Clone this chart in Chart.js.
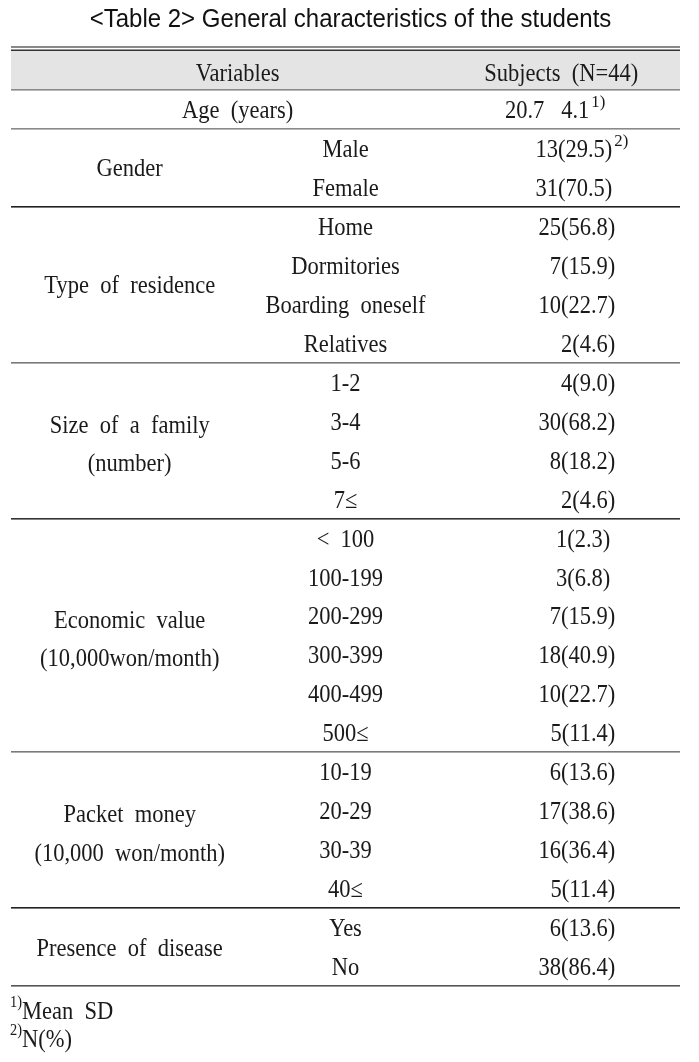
<!DOCTYPE html>
<html>
<head>
<meta charset="utf-8">
<script src="https://cdn.jsdelivr.net/npm/chart.js@4.4.1/dist/chart.umd.min.js"></script>
<style>
html,body{margin:0;padding:0;background:#fff;}
#wrap{width:699px;height:1062px;position:relative;}
</style>
</head>
<body>
<div id="wrap"><canvas id="c"></canvas></div>
<script>
// ---------- DATA ----------
const titleText = "<Table 2> General characteristics of the students";
const headerLabels = ["Variables", "Subjects  (N=44)"];
const groupLabels = [["Age  (years)"], ["Gender"], ["Type  of  residence"], ["Size  of  a  family", "(number)"],
  ["Economic  value", "(10,000won/month)"], ["Packet  money", "(10,000  won/month)"], ["Presence  of  disease"]];
const groupSizes = [1, 2, 4, 4, 6, 4, 2];
const subCategories = ["", "Male", "Female", "Home", "Dormitories", "Boarding  oneself", "Relatives",
  "1-2", "3-4", "5-6", "7≤", "<  100", "100-199", "200-299", "300-399", "400-499", "500≤",
  "10-19", "20-29", "30-39", "40≤", "Yes", "No"];
const counts   = [null, 13, 31, 25, 7, 10, 2, 4, 30, 8, 2, 1, 3, 7, 18, 10, 5, 6, 17, 16, 5, 6, 38];
const percents = [null, 29.5, 70.5, 56.8, 15.9, 22.7, 4.6, 9.0, 68.2, 18.2, 4.6, 2.3, 6.8, 15.9, 40.9, 22.7, 11.4, 13.6, 38.6, 36.4, 11.4, 13.6, 86.4];
const ageMean = 20.7, ageSD = 4.1;
const footnotes = [["1)", "Mean  SD"], ["2)", "N(%)"]];

// ---------- BUILD ----------
const nRows = subCategories.length;
const groupPoints = [], groupTexts = [];
let start = 1;
const boundaries = [0.5];
groupSizes.forEach((s, i) => {
  groupPoints.push({x: i === 0 ? 0.5 : 0, y: start + (s - 1) / 2});
  groupTexts.push(groupLabels[i]);
  start += s;
  boundaries.push(start - 0.5);
});
const subPoints = [], subTexts = [];
subCategories.forEach((s, i) => { if (s) { subPoints.push({x: 1, y: i + 1}); subTexts.push(s); } });
const valPoints = [], valTexts = [], valSup = [], valShift = [];
valPoints.push({x: 2, y: 1}); valTexts.push(ageMean.toFixed(1) + "   " + ageSD.toFixed(1)); valSup.push("1)"); valShift.push(-26);
counts.forEach((c, i) => {
  if (c === null) return;
  valPoints.push({x: 2, y: i + 1});
  valTexts.push(c + "(" + percents[i].toFixed(1) + ")");
  valSup.push(i === 1 ? "2)" : "");
  valShift.push(i <= 2 ? -3 : (i === 11 || i === 12 ? -5 : 0));
});
const headPoints = [{x: 0.5, y: 0}, {x: 2, y: 0}];

const SERIF = '"Liberation Serif", "DejaVu Serif", serif';
const SANS = '"Liberation Sans", Arial, sans-serif';
const ink = '#1a1a1a';
const SX = 0.9;       // horizontal condensation of table text
const FS = 25;        // table font size

function drawText(ctx, txt, x, y, align, sx) {
  ctx.save();
  ctx.translate(x, y);
  ctx.scale(sx, 1);
  ctx.textAlign = align;
  ctx.fillText(txt, 0, 0);
  ctx.restore();
}

const tablePlugin = {
  id: 'tablePlugin',
  beforeDatasetsDraw(chart) {
    const {ctx, chartArea: a, scales: {y}} = chart;
    ctx.save();
    const hTop = y.getPixelForValue(-0.5), hBot = y.getPixelForValue(0.5);
    ctx.fillStyle = '#e4e4e4';
    ctx.fillRect(a.left, hTop, a.right - a.left, hBot - hTop);
    ctx.fillStyle = '#8a8a8a';
    ctx.fillRect(a.left, hTop - 5, a.right - a.left, 2);
    ctx.fillStyle = '#333';
    ctx.fillRect(a.left, hTop - 1.5, a.right - a.left, 1.5);
    const cols = ['#8a8a8a', '#8a8a8a', '#222', '#7a7a7a', '#333', '#7a7a7a', '#222', '#555'];
    boundaries.forEach((b, i) => {
      const py = y.getPixelForValue(b);
      ctx.fillStyle = cols[i % cols.length];
      ctx.fillRect(a.left, Math.round(py) - 1, a.right - a.left, 1.6);
    });
    ctx.restore();
  },
  afterDatasetsDraw(chart) {
    const {ctx, chartArea: a} = chart;
    ctx.save();
    ctx.fillStyle = ink;
    ctx.textBaseline = 'middle';
    const font = FS + 'px ' + SERIF;
    const supFont = '16px ' + SERIF;
    const dy = 2;
    chart.data.datasets.forEach((ds, di) => {
      const meta = chart.getDatasetMeta(di);
      meta.data.forEach((el, k) => {
        const x = el.x, yy = el.y + dy;
        ctx.font = font;
        if (ds.kind === 'group') {
          const lines = ds.texts[k];
          const lh = 38.5;
          const off = lines.length > 1 ? 3 : 0;
          lines.forEach((ln, j) => drawText(ctx, ln, x, yy + off + (j - (lines.length - 1) / 2) * lh, 'center', SX));
        } else if (ds.kind === 'sub') {
          drawText(ctx, ds.texts[k], x, yy, 'center', SX);
        } else if (ds.kind === 'head') {
          drawText(ctx, ds.texts[k], x, yy + 2, 'center', SX);
        } else if (ds.kind === 'val') {
          const rx = x + 54 + ds.shifts[k];
          drawText(ctx, ds.texts[k], rx, yy, 'right', SX);
          if (ds.sups[k]) {
            ctx.font = supFont;
            drawText(ctx, ds.sups[k], rx + 2, yy - 9, 'left', 1.05);
          }
        }
      });
    });
    // footnotes
    footnotes.forEach((f, i) => {
      const by = a.bottom + 26 + i * 28;
      ctx.font = supFont;
      drawText(ctx, f[0], a.left - 1, by - 9, 'left', SX);
      const w = ctx.measureText(f[0]).width * SX;
      ctx.font = font;
      drawText(ctx, f[1], a.left - 1 + w, by, 'left', SX);
    });
    // title
    ctx.font = '25px ' + SANS;
    ctx.fillStyle = '#111';
    drawText(ctx, titleText, (a.left + a.right) / 2 + 5, a.top - 31, 'center', 0.96);
    ctx.restore();
  }
};

new Chart(document.getElementById('c'), {
  type: 'scatter',
  data: {
    datasets: [
      {kind: 'head', data: headPoints, texts: headerLabels, pointRadius: 0},
      {kind: 'group', data: groupPoints, texts: groupTexts, pointRadius: 0},
      {kind: 'sub', data: subPoints, texts: subTexts, pointRadius: 0},
      {kind: 'val', data: valPoints, texts: valTexts, sups: valSup, shifts: valShift, pointRadius: 0}
    ]
  },
  options: {
    responsive: true,
    maintainAspectRatio: false,
    animation: false,
    events: [],
    layout: {padding: {left: 11, right: 19, top: 51, bottom: 76}},
    plugins: {legend: {display: false}, tooltip: {enabled: false}, title: {display: false}},
    scales: {
      x: {type: 'linear', min: -0.55, max: 2.55, display: false},
      y: {type: 'linear', min: -0.5, max: nRows + 0.5, reverse: true, display: false}
    }
  },
  plugins: [tablePlugin]
});
</script>
</body>
</html>
